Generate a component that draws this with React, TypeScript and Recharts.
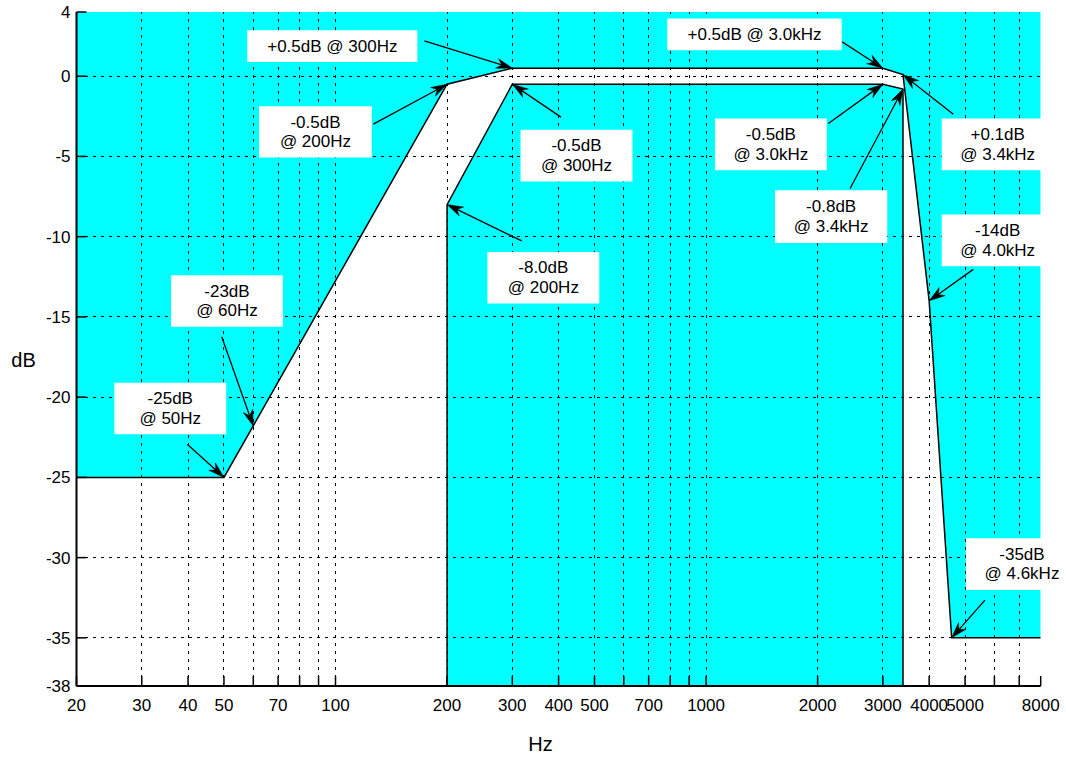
import React from 'react';
import {
  ComposedChart,
  Area,
  Line,
  XAxis,
  YAxis,
  ReferenceLine,
  ReferenceArea,
  Label,
} from 'recharts';

// ---------- data ----------
const X_MIN = 20;
const X_MAX = 8000;
const Y_MIN = -38;
const Y_MAX = 4;

// upper mask (region above is shaded)
const UPPER_HZ = [20, 50, 200, 300, 3000, 3400, 4000, 4600, 8000];
const UPPER_DB = [-25, -25, -0.5, 0.5, 0.5, 0.1, -14, -35, -35];
// lower mask (region below is shaded)
const LOWER_HZ = [200, 200, 300, 3000, 3400, 3400];
const LOWER_DB = [-38, -8, -0.5, -0.5, -0.8, -38];

const X_TICKS = [20, 30, 40, 50, 60, 70, 80, 90, 100, 200, 300, 400, 500, 600, 700, 800, 900, 1000, 2000, 3000, 4000, 5000, 6000, 7000, 8000];
const X_TICK_LABELS = ['20', '30', '40', '50', '70', '100', '200', '300', '400', '500', '700', '1000', '2000', '3000', '4000', '5000', '8000'];
const Y_TICKS = [4, 0, -5, -10, -15, -20, -25, -30, -35, -38];
const GRID_HZ = [30, 40, 50, 60, 70, 80, 90, 100, 200, 300, 400, 500, 600, 700, 800, 900, 1000, 2000, 3000, 4000, 5000, 6000, 7000];
const GRID_DB = [0, -5, -10, -15, -20, -25, -30, -35];

// annotations
const NOTE_TEXT: string[][] = [
  ['+0.5dB @ 300Hz'],
  ['-0.5dB', '@ 200Hz'],
  ['-0.5dB', '@ 300Hz'],
  ['+0.5dB @ 3.0kHz'],
  ['+0.1dB', '@ 3.4kHz'],
  ['-0.5dB', '@ 3.0kHz'],
  ['-0.8dB', '@ 3.4kHz'],
  ['-14dB', '@ 4.0kHz'],
  ['-35dB', '@ 4.6kHz'],
  ['-8.0dB', '@ 200Hz'],
  ['-23dB', '@ 60Hz'],
  ['-25dB', '@ 50Hz'],
];
const NOTE_BOX_HZ: number[][] = [
  [57.8, 166.3], [62.2, 125.3], [315.8, 633], [786, 2323], [4324, 8672], [1057, 2117],
  [1535, 3084], [4324, 8672], [5028, 10084], [257, 515], [36.0, 72.1], [25.3, 50.7],
];
const NOTE_BOX_DB: number[][] = [
  [2.87, 0.89], [-1.87, -5.07], [-3.33, -6.57], [3.6, 1.62], [-2.64, -5.86], [-2.64, -5.86],
  [-7.1, -10.39], [-8.62, -11.84], [-28.8, -32.02], [-10.95, -14.16], [-12.4, -15.62], [-19.11, -22.31],
];
const NOTE_TAIL_HZ = [173.7, 126.5, 406, 2330, 4648, 2138, 2447, 5262, 5658, 318, 49.3, 39.8];
const NOTE_TAIL_DB = [2.2, -2.99, -2.55, 2.14, -2.37, -2.95, -7.0, -12.04, -32.65, -10.26, -16.24, -22.93];
const NOTE_HEAD_HZ = [300, 200, 300, 3000, 3400, 3000, 3400, 4000, 4600, 200, 60, 50];
const NOTE_HEAD_DB = [0.5, -0.5, -0.5, 0.5, 0.1, -0.5, -0.8, -14, -35, -8, -21.8, -25];

const upperData = UPPER_HZ.map((hz, i) => ({ hz, db: UPPER_DB[i] }));
const lowerData = LOWER_HZ.map((hz, i) => ({ hz, db: LOWER_DB[i] }));

// ---------- styles ----------
const FONT = '"Liberation Sans", Arial, Helvetica, sans-serif';
const CYAN = '#00FFFF';
const TICK_LEN = 10;
const FRAME = { stroke: '#000', strokeWidth: 2 };

const BottomTick = (props: any) => {
  const { x, y, payload } = props;
  const s = String(payload.value);
  const show = X_TICK_LABELS.includes(s);
  return (
    <g>
      <line x1={x} y1={y} x2={x} y2={y - TICK_LEN} stroke="#000" strokeWidth={1.5} />
      {show && (
        <text x={x} y={y + 24.6} textAnchor="middle" fontSize={17} fontFamily={FONT} fill="#000">
          {s}
        </text>
      )}
    </g>
  );
};

const TopTick = (props: any) => {
  const { x, y } = props;
  return <line x1={x} y1={y} x2={x} y2={y + TICK_LEN} stroke="#000" strokeWidth={1.5} />;
};

const LeftTick = (props: any) => {
  const { x, y, payload } = props;
  return (
    <g>
      <line x1={x} y1={y} x2={x + TICK_LEN} y2={y} stroke="#000" strokeWidth={1.5} />
      <text x={x - 6} y={y + 6} textAnchor="end" fontSize={17} fontFamily={FONT} fill="#000">
        {String(payload.value)}
      </text>
    </g>
  );
};

const RightTick = (props: any) => {
  const { x, y } = props;
  return <line x1={x} y1={y} x2={x - TICK_LEN} y2={y} stroke="#000" strokeWidth={1.5} />;
};

const ArrowShape = (p: any) => {
  const { x1, y1, x2, y2 } = p;
  const dx = x2 - x1;
  const dy = y2 - y1;
  const len = Math.hypot(dx, dy) || 1;
  const ux = dx / len;
  const uy = dy / len;
  const L = 16;
  const W = 5;
  const N = 11;
  const bx = x2 - ux * L;
  const by = y2 - uy * L;
  const nx = x2 - ux * N;
  const ny = y2 - uy * N;
  const pts = [
    [x2, y2],
    [bx - uy * W, by + ux * W],
    [nx, ny],
    [bx + uy * W, by - ux * W],
  ]
    .map((q) => q.join(','))
    .join(' ');
  return (
    <g>
      <line x1={x1} y1={y1} x2={nx} y2={ny} stroke="#000" strokeWidth={1.3} />
      <polygon points={pts} fill="#000" stroke="#000" strokeWidth={0.5} />
    </g>
  );
};

const makeNoteLabel = (lines: string[]) => (props: any) => {
  const vb = props.viewBox || {};
  const cx = vb.x + vb.width / 2;
  const cy = vb.y + vb.height / 2;
  const n = lines.length;
  return (
    <text textAnchor="middle" fontSize={17} fontFamily={FONT} fill="#000">
      {lines.map((l, i) => (
        <tspan key={i} x={cx} y={cy + (i - (n - 1) / 2) * 19.4 + 5.5}>
          {l}
        </tspan>
      ))}
    </text>
  );
};

const XTitle = (props: any) => {
  const vb = props.viewBox || {};
  return (
    <text x={vb.x + vb.width / 2 - 18} y={vb.y + 64.7} textAnchor="middle" fontSize={20} fontFamily={FONT} fill="#000">
      Hz
    </text>
  );
};

const YTitle = (props: any) => {
  const vb = props.viewBox || {};
  return (
    <text x={vb.x + 23.5} y={vb.y + vb.height / 2 + 17.7} textAnchor="middle" fontSize={20} fontFamily={FONT} fill="#000">
      dB
    </text>
  );
};

export default function App() {
  return (
    <div style={{ position: 'absolute', left: 0, top: 0, width: 1066, height: 757, background: '#fff' }}>
      <ComposedChart width={1066} height={757} margin={{ top: 12, right: 25.3, bottom: 0, left: 0 }}>
        <XAxis
          dataKey="hz"
          type="number"
          scale="log"
          domain={[X_MIN, X_MAX]}
          allowDataOverflow
          ticks={X_TICKS}
          interval={0}
          height={71}
          tickSize={0}
          tickMargin={0}
          tickLine={false}
          axisLine={FRAME}
          tick={<BottomTick />}
        >
          <Label content={<XTitle />} />
        </XAxis>
        <XAxis
          xAxisId="top"
          orientation="top"
          dataKey="hz"
          type="number"
          scale="log"
          domain={[X_MIN, X_MAX]}
          allowDataOverflow
          ticks={X_TICKS}
          interval={0}
          height={0}
          tickSize={0}
          tickMargin={0}
          tickLine={false}
          axisLine={FRAME}
          tick={<TopTick />}
        />
        <YAxis
          type="number"
          domain={[Y_MIN, Y_MAX]}
          allowDataOverflow
          ticks={Y_TICKS}
          interval={0}
          width={76.5}
          tickSize={0}
          tickMargin={0}
          tickLine={false}
          axisLine={FRAME}
          tick={<LeftTick />}
        >
          <Label content={<YTitle />} />
        </YAxis>
        <YAxis
          yAxisId="right"
          orientation="right"
          type="number"
          domain={[Y_MIN, Y_MAX]}
          allowDataOverflow
          ticks={Y_TICKS}
          interval={0}
          width={0}
          tickSize={0}
          tickMargin={0}
          tickLine={false}
          axisLine={FRAME}
          tick={<RightTick />}
        />

        <Area
          data={upperData}
          dataKey={(d: any) => [d.db, Y_MAX]}
          type="linear"
          fill={CYAN}
          fillOpacity={1}
          stroke="none"
          isAnimationActive={false}
          zIndex={100}
        />
        <Area
          data={lowerData}
          dataKey={(d: any) => [Y_MIN, d.db]}
          type="linear"
          fill={CYAN}
          fillOpacity={1}
          stroke="none"
          isAnimationActive={false}
          zIndex={100}
        />

        {GRID_HZ.map((hz) => (
          <ReferenceLine
            key={'gx' + hz}
            x={hz}
            stroke="#000"
            strokeWidth={1}
            strokeDasharray="3 5"
            shapeRendering="crispEdges"
            zIndex={150}
          />
        ))}
        {GRID_DB.map((db) => (
          <ReferenceLine
            key={'gy' + db}
            y={db}
            stroke="#000"
            strokeWidth={1}
            strokeDasharray="3 5"
            shapeRendering="crispEdges"
            zIndex={150}
          />
        ))}

        <Line
          data={upperData}
          dataKey="db"
          type="linear"
          stroke="#000"
          strokeWidth={1.5}
          dot={false}
          activeDot={false}
          isAnimationActive={false}
          zIndex={200}
        />
        <Line
          data={lowerData}
          dataKey="db"
          type="linear"
          stroke="#000"
          strokeWidth={1.5}
          dot={false}
          activeDot={false}
          isAnimationActive={false}
          zIndex={200}
        />

        {NOTE_TEXT.map((lines, i) => (
          <ReferenceArea
            key={'nb' + i}
            x1={NOTE_BOX_HZ[i][0]}
            x2={NOTE_BOX_HZ[i][1]}
            y1={NOTE_BOX_DB[i][0]}
            y2={NOTE_BOX_DB[i][1]}
            fill="#fff"
            fillOpacity={1}
            stroke="none"
            ifOverflow="visible"
            zIndex={300}
          >
            <Label content={makeNoteLabel(lines)} />
          </ReferenceArea>
        ))}
        {NOTE_TEXT.map((_, i) => (
          <ReferenceLine
            key={'na' + i}
            segment={[
              { x: NOTE_TAIL_HZ[i], y: NOTE_TAIL_DB[i] },
              { x: NOTE_HEAD_HZ[i], y: NOTE_HEAD_DB[i] },
            ]}
            ifOverflow="visible"
            shape={ArrowShape}
            zIndex={350}
          />
        ))}
      </ComposedChart>
    </div>
  );
}
